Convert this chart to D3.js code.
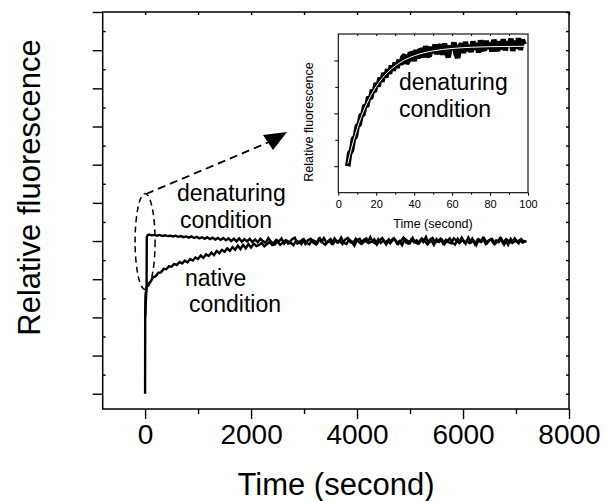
<!DOCTYPE html>
<html>
<head>
<meta charset="utf-8">
<script src="https://cdn.jsdelivr.net/npm/d3@7"></script>
<style>
  body { margin: 0; background: #fff; }
  svg { font-family: "Liberation Sans", Arial, sans-serif; }
</style>
</head>
<body>
<svg></svg>
<script>
// main traces: first few points (the jump at t=0), then one reading every 50 s
// native readings sit at t = 50, 100, ... ; denaturing readings at t = 75, 125, ...
var nativeHeadTime = [0, 2, 8, 25];
var nativeHeadValue = [0.0, 2.0, 2.6, 2.75];
var nativeTail = [
  2.87, 2.93, 3.05, 3.08, 3.17, 3.18, 3.27, 3.26, 3.34, 3.33,
  3.40, 3.37, 3.45, 3.41, 3.49, 3.44, 3.53, 3.49, 3.57, 3.53,
  3.62, 3.56, 3.65, 3.61, 3.70, 3.63, 3.74, 3.68, 3.77, 3.72,
  3.81, 3.74, 3.84, 3.77, 3.88, 3.79, 3.90, 3.81, 3.92, 3.83,
  3.93, 3.87, 3.90, 3.95, 3.86, 3.92, 3.97, 3.89, 3.91, 3.99,
  3.90, 3.96, 4.02, 3.93, 3.95, 3.89, 4.01, 3.98, 3.92, 4.04,
  3.95, 3.91, 4.03, 4.00, 3.94, 4.07, 3.96, 3.90, 3.99, 4.05,
  3.93, 4.02, 3.97, 4.09, 3.95, 3.92, 4.04, 3.99, 3.88, 4.03,
  4.06, 3.94, 4.01, 3.96, 4.10, 3.97, 3.93, 4.05, 3.95, 4.02,
  3.91, 4.04, 3.98, 4.07, 3.94, 4.00, 3.89, 4.06, 4.01, 3.95,
  4.08, 3.96, 3.93, 4.03, 3.97, 4.11, 3.94, 4.02, 3.90, 4.05,
  3.98, 4.04, 3.92, 4.00, 4.07, 3.95, 3.91, 4.06, 3.97, 4.03,
  3.93, 4.09, 3.96, 4.01, 3.89, 4.04, 3.98, 4.07, 3.94, 4.02,
  4.05, 3.92, 3.99, 4.08, 3.95, 4.03, 3.90, 4.06, 3.97, 4.01,
  3.94, 4.05, 3.98, 4.00
];
var denatHeadTime = [0, 28, 32, 45];
var denatHeadValue = [2.0, 2.8, 4.1, 4.15];
var denatTail = [
  4.17, 4.15, 4.16, 4.14, 4.16, 4.13, 4.15, 4.13, 4.14, 4.12,
  4.14, 4.11, 4.13, 4.10, 4.12, 4.09, 4.12, 4.08, 4.11, 4.07,
  4.10, 4.06, 4.10, 4.05, 4.09, 4.04, 4.08, 4.03, 4.08, 4.02,
  4.07, 4.00, 4.06, 3.99, 4.07, 3.98, 4.05, 3.99, 4.06, 3.97,
  4.04, 3.97, 4.06, 4.00, 3.95, 4.08, 3.98, 3.94, 4.03, 3.99,
  4.07, 3.93, 4.01, 3.97, 4.05, 4.09, 3.94, 3.99, 4.04, 3.92,
  4.02, 4.06, 3.96, 3.91, 4.05, 3.98, 4.08, 3.95, 4.00, 3.93,
  4.07, 3.96, 4.01, 3.92, 4.04, 4.08, 3.97, 3.94, 4.06, 3.99,
  3.93, 4.03, 4.07, 3.95, 3.99, 4.05, 3.91, 4.02, 4.08, 3.96,
  4.01, 3.94, 4.06, 4.03, 3.92, 4.00, 4.09, 3.96, 3.93, 4.05,
  3.97, 4.02, 3.95, 4.07, 4.00, 3.92, 4.04, 4.08, 3.96, 3.99,
  4.06, 3.93, 4.03, 3.97, 3.94, 4.07, 4.01, 3.95, 4.09, 3.96,
  4.00, 3.95, 4.06, 3.92, 4.04, 3.98, 4.08, 3.93, 4.01, 4.05,
  3.94, 4.02, 3.97, 4.06, 3.91, 4.04, 3.99, 3.95, 4.07, 3.98,
  4.03, 3.96, 4.01
];
var tailStep = 50;
var nativeOffset = 0;
var denatOffset = 25;

// inset: one reading per second from 5 s to 98 s, plus the fitted curve
var insetStart = 5;
var insetValue = [
  1.00, 1.25, 1.30, 1.52, 1.56, 1.76, 1.79, 1.96, 1.98, 2.15,
  2.13, 2.31, 2.28, 2.44, 2.41, 2.57, 2.51, 2.67, 2.60, 2.76,
  2.68, 2.83, 2.75, 2.90, 2.81, 2.96, 2.86, 3.01, 2.92, 3.06,
  3.10, 2.94, 3.00, 3.15, 3.12, 2.99, 3.20, 3.04, 3.21, 3.18,
  3.06, 3.27, 3.10, 3.08, 3.26, 3.14, 3.30, 3.12, 3.25, 3.29,
  3.11, 3.32, 3.15, 3.06, 3.28, 3.20, 3.34, 3.13, 3.05, 3.27,
  3.31, 3.14, 3.35, 3.18, 3.29, 3.16, 3.36, 3.21, 3.33, 3.15,
  3.38, 3.24, 3.19, 3.37, 3.22, 3.34, 3.17, 3.39, 3.26, 3.18,
  3.36, 3.21, 3.40, 3.19, 3.35, 3.28, 3.41, 3.18, 3.37, 3.23,
  3.42, 3.20, 3.39, 3.30
];
var fitTime = [5, 7, 9, 11, 13, 15, 17, 20, 23, 26, 30, 35, 40, 45, 50, 55, 60, 70, 80, 90, 98];
var fitValue = [1.05, 1.345, 1.60, 1.825, 2.016, 2.182, 2.329, 2.509, 2.657, 2.775, 2.897,
  3.01, 3.088, 3.143, 3.181, 3.208, 3.226, 3.249, 3.26, 3.265, 3.268];

var mainXTicks = [0, 2000, 4000, 6000, 8000];
var insetXTicks = [0, 20, 40, 60, 80, 100];

function toPoints(headT, headV, tail, offset) {
    var pts = headT.map(function(t, i) { return [t, headV[i]]; });
    tail.forEach(function(v, i) { pts.push([offset + (i + 1) * tailStep, v]); });
    return pts;
}

function chart() {
    var width = 607, height = 501;
    var svg = d3.select("svg").attr("width", width).attr("height", height);

    var x = d3.scaleLinear().domain([-800, 8000]).range([102.7, 569]);
    var y = d3.scaleLinear().domain([-0.4, 10]).range([409, 12]);

    var g = svg.append("g");

    // frame
    g.append("rect")
        .attr("x", x.range()[0]).attr("y", y.range()[1])
        .attr("width", x.range()[1] - x.range()[0])
        .attr("height", y.range()[0] - y.range()[1])
        .attr("fill", "none").attr("stroke", "#000").attr("stroke-width", 1.5);

    function styleAxis(sel) {
        sel.select(".domain").remove();
        sel.selectAll("line").attr("stroke", "#000").attr("stroke-width", 1.4);
        sel.selectAll("text").attr("fill", "#000").style("font-family", "Liberation Sans, Arial, sans-serif");
    }

    var yMajor = d3.range(0, 11);
    var yMinor = d3.range(0.5, 10, 1);

    g.append("g").attr("transform", "translate(0,409)")
        .call(d3.axisBottom(x).tickValues(mainXTicks).tickSize(10).tickPadding(5).tickFormat(d3.format("d")))
        .call(styleAxis)
        .selectAll("text").style("font-size", "28px");
    g.append("g").attr("transform", "translate(0,409)")
        .call(d3.axisBottom(x).tickValues([1000, 3000, 5000, 7000]).tickSize(5).tickFormat(""))
        .call(styleAxis);
    g.append("g").attr("transform", "translate(0,12)")
        .call(d3.axisTop(x).tickValues(d3.range(0, 8001, 1000)).tickSize(-3).tickFormat(""))
        .call(styleAxis);
    g.append("g").attr("transform", "translate(102.7,0)")
        .call(d3.axisLeft(y).tickValues(yMajor).tickSize(10).tickFormat(""))
        .call(styleAxis);
    g.append("g").attr("transform", "translate(102.7,0)")
        .call(d3.axisLeft(y).tickValues(yMinor).tickSize(-3).tickFormat(""))
        .call(styleAxis);
    g.append("g").attr("transform", "translate(569,0)")
        .call(d3.axisRight(y).tickValues(yMajor.concat(yMinor)).tickSize(-3).tickFormat(""))
        .call(styleAxis);

    // axis titles
    g.append("text").attr("x", 336).attr("y", 495)
        .attr("text-anchor", "middle").style("font-size", "31px")
        .text("Time (second)");
    g.append("text").attr("transform", "translate(40,187.5) rotate(-90)")
        .attr("text-anchor", "middle").style("font-size", "31px")
        .text("Relative fluorescence");

    var line = d3.line()
        .x(function(d) { return x(d[0]); })
        .y(function(d) { return y(d[1]); });

    // thick stroke so the noisy trace reads as a solid band
    g.append("path").datum(toPoints(nativeHeadTime, nativeHeadValue, nativeTail, nativeOffset))
        .attr("d", line).attr("fill", "none").attr("stroke", "#000").attr("stroke-width", 2.4);
    g.append("path").datum(toPoints(denatHeadTime, denatHeadValue, denatTail, denatOffset))
        .attr("d", line).attr("fill", "none").attr("stroke", "#000").attr("stroke-width", 2.4);

    // dashed ellipse round the jump and dashed arrow to the inset
    g.append("ellipse")
        .attr("cx", x(0)).attr("cy", y(3.99)).attr("rx", 10).attr("ry", 48)
        .attr("fill", "none").attr("stroke", "#000").attr("stroke-width", 1.5)
        .attr("stroke-dasharray", "6,4");
    g.append("line")
        .attr("x1", 146).attr("y1", 194).attr("x2", 268).attr("y2", 142.5)
        .attr("stroke", "#000").attr("stroke-width", 1.8).attr("stroke-dasharray", "8,5");
    g.append("path")
        .attr("d", "M287,132 L263,135 L273,150 Z").attr("fill", "#000");

    // labels on the main plot
    var notes = [
        {t: "denaturing", x: 177, y: 201},
        {t: "condition", x: 180, y: 228},
        {t: "native", x: 185, y: 286},
        {t: "condition", x: 189, y: 312}
    ];
    g.selectAll(".note").data(notes).enter().append("text")
        .attr("class", "note")
        .attr("x", function(d) { return d.x; }).attr("y", function(d) { return d.y; })
        .style("font-size", "23px").text(function(d) { return d.t; });

    // ---- inset ----
    var ix = d3.scaleLinear().domain([0, 100]).range([338.3, 528]);
    var iy = d3.scaleLinear().domain([0.5, 3.5]).range([192.7, 34]);
    var ins = svg.append("g");

    ins.append("rect")
        .attr("x", 338.3).attr("y", 34).attr("width", 528 - 338.3).attr("height", 192.7 - 34)
        .attr("fill", "#fff").attr("stroke", "#000").attr("stroke-width", 1.1);

    function styleInset(sel) {
        sel.select(".domain").remove();
        sel.selectAll("line").attr("stroke", "#000").attr("stroke-width", 1);
        sel.selectAll("text").attr("fill", "#000").style("font-size", "11px")
            .style("font-family", "Liberation Sans, Arial, sans-serif");
    }

    ins.append("g").attr("transform", "translate(0,192.7)")
        .call(d3.axisBottom(ix).tickValues(insetXTicks).tickSize(3).tickPadding(5))
        .call(styleInset);
    ins.append("g").attr("transform", "translate(0,192.7)")
        .call(d3.axisBottom(ix).tickValues(d3.range(10, 100, 20)).tickSize(2).tickFormat(""))
        .call(styleInset);
    ins.append("g").attr("transform", "translate(0,34)")
        .call(d3.axisTop(ix).tickValues(d3.range(10, 100, 10)).tickSize(-2).tickFormat(""))
        .call(styleInset);
    ins.append("g").attr("transform", "translate(338.3,0)")
        .call(d3.axisLeft(iy).tickValues([1, 2, 3]).tickSize(4).tickFormat(""))
        .call(styleInset);
    ins.append("g").attr("transform", "translate(338.3,0)")
        .call(d3.axisLeft(iy).tickValues([1.5, 2.5]).tickSize(3).tickFormat(""))
        .call(styleInset);

    ins.append("text").attr("x", 433).attr("y", 228)
        .attr("text-anchor", "middle").style("font-size", "12.5px")
        .text("Time (second)");
    ins.append("text").attr("transform", "translate(313,122) rotate(-90)")
        .attr("text-anchor", "middle").style("font-size", "12.5px")
        .text("Relative fluorescence");

    var iline = d3.line()
        .x(function(d) { return ix(d[0]); })
        .y(function(d) { return iy(d[1]); });

    var insetPts = insetValue.map(function(v, i) { return [insetStart + i, v]; });
    ins.append("path").datum(insetPts)
        .attr("d", iline).attr("fill", "none").attr("stroke", "#000")
        .attr("stroke-width", 5.5).attr("stroke-linejoin", "bevel");

    var fitPts = fitTime.map(function(t, i) { return [t, fitValue[i]]; });
    ins.append("path").datum(fitPts)
        .attr("d", iline.curve(d3.curveMonotoneX)).attr("fill", "none")
        .attr("stroke", "#fff").attr("stroke-width", 1);

    ins.append("text").attr("x", 399).attr("y", 90).style("font-size", "23px").text("denaturing");
    ins.append("text").attr("x", 399).attr("y", 117).style("font-size", "23px").text("condition");
}

chart();
</script>
</body>
</html>
